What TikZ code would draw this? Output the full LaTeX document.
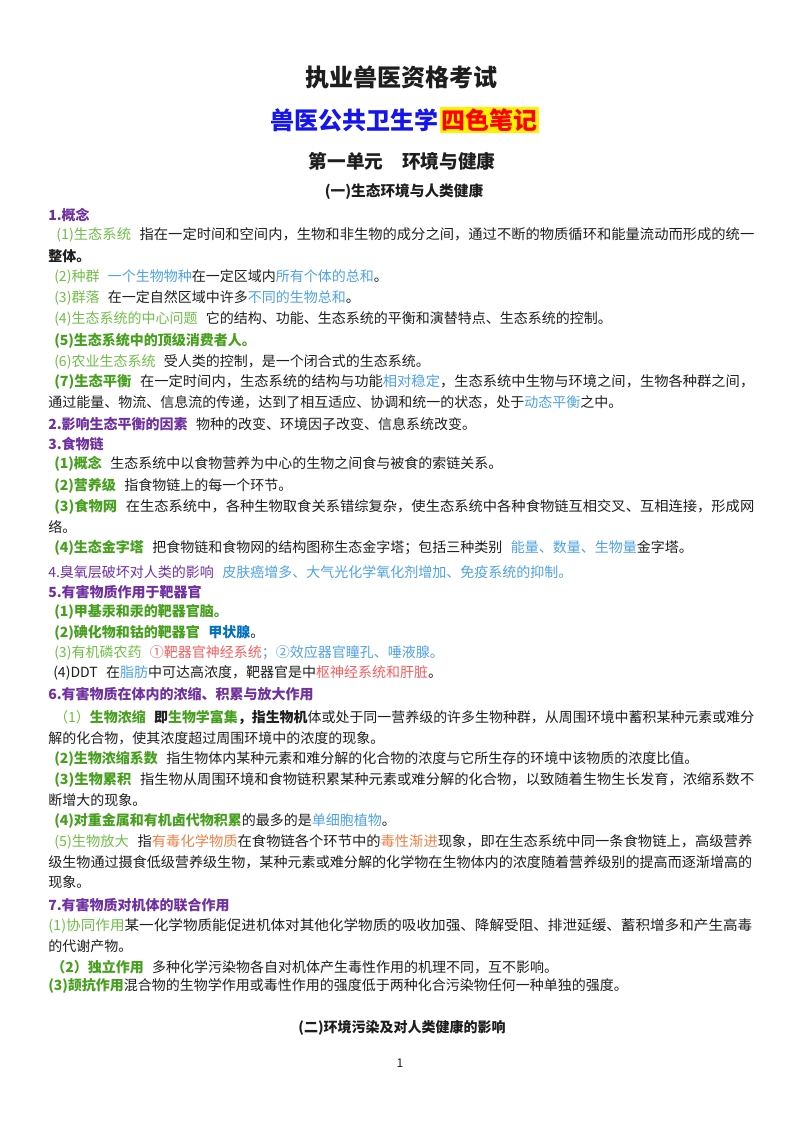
\documentclass[tikz,border=0pt]{standalone}
\usepackage{fontspec}
\setmainfont{Noto Sans CJK SC}
\usepackage{graphicx}
\usepackage{tikz}

\definecolor{purp}{RGB}{112,48,160}
\definecolor{grnb}{RGB}{70,160,30}
\definecolor{grnl}{RGB}{112,190,72}
\definecolor{bluel}{RGB}{78,162,230}
\definecolor{blued}{RGB}{0,112,192}
\definecolor{pinkr}{RGB}{245,95,95}
\definecolor{orng}{RGB}{240,128,70}
\definecolor{inkc}{RGB}{30,30,30}

\newcommand\bodyfont{\fontsize{10.5}{12}\selectfont}
\newcommand\gap{\hspace{0.6em}}
\newcommand\cpu[1]{{\color{purp}\bfseries #1}}
\newcommand\cgb[1]{{\color{grnb}\bfseries #1}}
\newcommand\cgl[1]{{\color{grnl}#1}}
\newcommand\cbl[1]{{\color{bluel}#1}}
\newcommand\cpk[1]{{\color{pinkr}#1}}
\newcommand\cog[1]{{\color{orng}#1}}
% wrapped lines are justified out to the right margin (width in px)
\newcommand\fillto[2]{\resizebox{\dimexpr #1pt*3/4\relax}{\height}{#2}}

\tikzset{
  txtline/.style={anchor=west,inner sep=0.75pt,font=\bodyfont,text=inkc},
  headline/.style={anchor=center,inner sep=0.75pt,text=inkc}
}

\begin{document}
\begin{tikzpicture}[x=0.75pt,y=0.75pt,yscale=-1,xscale=1]
\fill[white] (0,0) rectangle (800,1131);
\useasboundingbox (0,0) rectangle (800,1131);

% Titles
\node (title) [headline,font=\fontsize{18}{20}\selectfont\bfseries] at (401,77) {执业兽医资格考试};
\node (subA) [anchor=east,inner sep=0.75pt,font=\fontsize{18}{20}\selectfont\bfseries,text={rgb,255:red,20;green,20;blue,240}] at (440,120) {兽医公共卫生学};
\node (subB) [anchor=west,inner sep=1pt,font=\fontsize{18}{20}\selectfont\bfseries,text=red,fill=yellow] at (subA.east) {四色笔记};
\node (unit) [headline,font=\fontsize{14}{16}\selectfont\bfseries] at (402,161) {第一单元　环境与健康};
\node (secA) [headline,font=\fontsize{11}{13}\selectfont\bfseries] at (404,192) {(一)生态环境与人类健康};

% 1. 概念
\node (l01) [txtline] at (47,215) {\cpu{1.概念}};
\node (l02) [txtline] at (55,235) {\fillto{698}{\cgl{(1)生态系统}\gap 指在一定时间和空间内，生物和非生物的成分之间，通过不断的物质循环和能量流动而形成的统一}};
\node (l03) [txtline] at (47,256) {\bfseries 整体。};
\node (l04) [txtline] at (53,277) {\cgl{(2)种群}\gap\cbl{一个生物物种}在一定区域内\cbl{所有个体的总和}。};
\node (l05) [txtline] at (53,298) {\cgl{(3)群落}\gap 在一定自然区域中许多\cbl{不同的生物总和}。};
\node (l06) [txtline] at (53,319) {\cgl{(4)生态系统的中心问题}\gap 它的结构、功能、生态系统的平衡和演替特点、生态系统的控制。};
\node (l07) [txtline] at (53,341) {\cgb{(5)生态系统中的顶级消费者人。}};
\node (l08) [txtline] at (53,362) {\cgl{(6)农业生态系统}\gap 受人类的控制，是一个闭合式的生态系统。};
\node (l09) [txtline] at (53,382) {\fillto{700}{\cgb{(7)生态平衡}\gap 在一定时间内，生态系统的结构与功能\cbl{相对稳定}，生态系统中生物与环境之间，生物各种群之间，}};
\node (l10) [txtline] at (47,402) {通过能量、物流、信息流的传递，达到了相互适应、协调和统一的状态，处于\cbl{动态平衡}之中。};

% 2. - 4.
\node (l11) [txtline] at (47,424) {\cpu{2.影响生态平衡的因素}\gap 物种的改变、环境因子改变、信息系统改变。};
\node (l12) [txtline] at (47,444) {\cpu{3.食物链}};
\node (l13) [txtline] at (53,464) {\cgb{(1)概念}\gap 生态系统中以食物营养为中心的生物之间食与被食的索链关系。};
\node (l14) [txtline] at (53,486) {\cgb{(2)营养级}\gap 指食物链上的每一个环节。};
\node (l15) [txtline] at (53,507) {\fillto{700}{\cgb{(3)食物网}\gap 在生态系统中，各种生物取食关系错综复杂，使生态系统中各种食物链互相交叉、互相连接，形成网}};
\node (l16) [txtline] at (47,527) {络。};
\node (l17) [txtline] at (53,548) {\cgb{(4)生态金字塔}\gap 把食物链和食物网的结构图称生态金字塔；包括三种类别\gap\cbl{能量、数量、生物量}金字塔。};
\node (l18) [txtline] at (47,572) {{\color{purp}4.臭氧层破坏对人类的影响}\gap\cbl{皮肤癌增多、大气光化学氧化剂增加、免疫系统的抑制。}};

% 5. 靶器官
\node (l19) [txtline] at (47,592) {\cpu{5.有害物质作用于靶器官}};
\node (l20) [txtline] at (53,612) {\cgb{(1)甲基汞和汞的靶器官脑。}};
\node (l21) [txtline] at (53,633) {\cgb{(2)碘化物和钴的靶器官}\gap{\color{blued}\bfseries 甲状腺}。};
\node (l22) [txtline] at (53,653) {\cgl{(3)有机磷农药}\gap\cpk{①靶器官神经系统}\cbl{；②效应器官瞳孔、唾液腺。}};
\node (l23) [txtline] at (52,673) {(4)DDT\gap 在\cbl{脂肪}中可达高浓度，靶器官是中\cpk{枢神经系统和肝脏}。};

% 6. 浓缩、积累与放大
\node (l24) [txtline] at (47,694) {\cpu{6.有害物质在体内的浓缩、积累与放大作用}};
\node (l25) [txtline] at (53,717) {\fillto{700}{\cgl{（1）}\cgb{生物浓缩}\gap{\bfseries 即\cgb{生物学富集}，指生物机}体或处于同一营养级的许多生物种群，从周围环境中蓄积某种元素或难分}};
\node (l26) [txtline] at (47,738) {解的化合物，使其浓度超过周围环境中的浓度的现象。};
\node (l27) [txtline] at (53,759) {\cgb{(2)生物浓缩系数}\gap 指生物体内某种元素和难分解的化合物的浓度与它所生存的环境中该物质的浓度比值。};
\node (l28) [txtline] at (53,780) {\fillto{700}{\cgb{(3)生物累积}\gap 指生物从周围环境和食物链积累某种元素或难分解的化合物，以致随着生物生长发育，浓缩系数不}};
\node (l29) [txtline] at (47,800) {断增大的现象。};
\node (l30) [txtline] at (53,821) {\cgb{(4)对重金属和有机卤代物积累}的最多的是\cbl{单细胞植物}。};
\node (l31) [txtline] at (53,842) {\fillto{698}{\cgl{(5)生物放大}\gap 指\cog{有毒化学物质}在食物链各个环节中的\cog{毒性渐进}现象，即在生态系统中同一条食物链上，高级营养}};
\node (l32) [txtline] at (47,862) {\fillto{704}{级生物通过摄食低级营养级生物，某种元素或难分解的化学物在生物体内的浓度随着营养级别的提高而逐渐增高的}};
\node (l33) [txtline] at (47,882) {现象。};

% 7. 联合作用
\node (l34) [txtline] at (47,905) {\cpu{7.有害物质对机体的联合作用}};
\node (l35) [txtline] at (47,926) {\fillto{704}{\cgl{(1)协同作用}某一化学物质能促进机体对其他化学物质的吸收加强、降解受阻、排泄延缓、蓄积增多和产生高毒}};
\node (l36) [txtline] at (47,946) {的代谢产物。};
\node (l37) [txtline] at (50,967) {\cgb{（2）独立作用}\gap 多种化学污染物各自对机体产生毒性作用的机理不同，互不影响。};
\node (l38) [txtline] at (47,986) {\cgb{(3)颉抗作用}混合物的生物学作用或毒性作用的强度低于两种化合污染物任何一种单独的强度。};

% 下一节与页码
\node (secB) [headline,font=\fontsize{10.5}{12}\selectfont\bfseries] at (402,1028) {(二)环境污染及对人类健康的影响};
\node (pnum) [headline,font=\fontsize{9}{10}\selectfont] at (400,1063) {1};

\end{tikzpicture}
\end{document}
